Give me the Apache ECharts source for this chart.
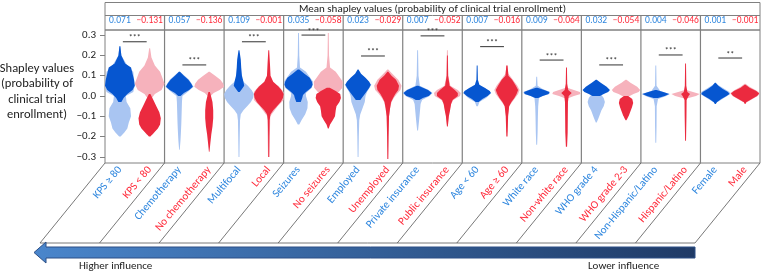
<!DOCTYPE html>
<html>
<head>
<meta charset="utf-8">
<script src="https://cdn.jsdelivr.net/npm/echarts@6/dist/echarts.min.js"></script>
<style>
  html, body { margin: 0; padding: 0; background: #fff; }
  #chart { width: 763px; height: 271px; }
</style>
</head>
<body>
<div id="chart"></div>
<script>
// feature levels, blue (first) and red (second) in each panel
const categories = [
  'KPS \u2265 80', 'KPS < 80', 'Chemotherapy', 'No chemotherapy', 'Multifocal', 'Local',
  'Seizures', 'No seizures', 'Employed', 'Unemployed', 'Private insurance', 'Public insurance',
  'Age < 60', 'Age \u2265 60', 'White race', 'Non-white race', 'WHO grade 4', 'WHO grade 2-3',
  'Non-Hispanic/Latino', 'Hispanic/Latino', 'Female', 'Male'
];
const meanValues = [
  0.071, -0.131, 0.057, -0.136, 0.109, -0.001, 0.035, -0.058, 0.023, -0.029, 0.007, -0.052,
  0.007, -0.016, 0.009, -0.064, 0.032, -0.054, 0.004, -0.046, 0.001, -0.001
];
// significance bar height per panel and its stars
const sigLevels = [0.267, 0.153, 0.267, 0.300, 0.197, 0.296, 0.243, 0.177, 0.153, 0.202, 0.187];
const sigMarks = ['***', '***', '***', '***', '***', '***', '***', '***', '***', '***', '**'];
const yTicks = [-0.3, -0.2, -0.1, 0, 0.1, 0.2, 0.3];

// violin outlines: [shap value, half width as share of half band], top to bottom
const lightProfiles = [
  [[0.245,0.03],[0.2,0.1],[0.15,0.5],[0.12,0.9],[0.05,1.0],[0.02,0.9],[0.0,0.4],[-0.03,0.45],[-0.06,0.7],[-0.1,0.75],[-0.13,0.6],[-0.16,0.5],[-0.18,0.3],[-0.2,0.05]],
  [[0.235,0.03],[0.19,0.12],[0.15,0.35],[0.12,0.7],[0.09,0.85],[0.06,1.0],[0.03,0.8],[0.01,0.35],[-0.01,0.15],[-0.04,0.3],[-0.08,0.6],[-0.12,0.6],[-0.16,0.5],[-0.19,0.2]],
  [[0.12,0.05],[0.08,0.65],[0.045,0.95],[0.02,0.55],[0.0,0.2],[-0.03,0.17],[-0.08,0.15],[-0.13,0.13],[-0.18,0.1],[-0.22,0.07],[-0.265,0.02]],
  [[0.12,0.03],[0.1,0.4],[0.08,0.75],[0.06,0.95],[0.045,1.0],[0.03,0.7],[0.015,0.3],[0.0,0.1]],
  [[0.2,0.03],[0.1,0.1],[0.07,0.3],[0.05,0.6],[0.03,0.85],[0.01,1.0],[-0.01,0.95],[-0.03,0.8],[-0.05,0.55],[-0.07,0.3],[-0.09,0.12],[-0.12,0.07],[-0.2,0.05],[-0.3,0.03]],
  [[0.05,0.65],[0.02,1.0],[-0.02,1.0],[-0.05,0.6],[-0.1,0.1],[-0.3,0.05]],
  [[0.31,0.03],[0.2,0.05],[0.14,0.1],[0.12,0.5],[0.07,0.98],[0.04,0.9],[0.015,0.5],[0.0,0.5],[-0.03,0.62],[-0.06,0.6],[-0.09,0.45],[-0.12,0.2],[-0.14,0.05]],
  [[0.31,0.03],[0.2,0.05],[0.14,0.12],[0.12,0.5],[0.07,0.98],[0.04,0.95],[0.02,0.7]],
  [[0.1,0.3],[0.055,0.9],[0.02,0.6],[0.0,0.5],[-0.03,0.45],[-0.06,0.3],[-0.09,0.15],[-0.12,0.08],[-0.2,0.05],[-0.3,0.03]],
  [[0.13,0.03],[0.11,0.3],[0.08,0.7],[0.05,0.92],[0.03,0.85],[0.01,0.6],[-0.01,0.4],[-0.03,0.25],[-0.06,0.15],[-0.1,0.08],[-0.2,0.04],[-0.31,0.02]],
  [[0.225,0.03],[0.1,0.06],[0.05,0.15],[0.03,0.75],[0.015,1.0],[0.0,0.8],[-0.02,0.3],[-0.04,0.2],[-0.08,0.15],[-0.12,0.1],[-0.17,0.03]],
  [[0.225,0.03],[0.1,0.06],[0.05,0.2],[0.03,0.7],[0.015,0.9],[0.0,0.85],[-0.02,0.4],[-0.04,0.25],[-0.07,0.15],[-0.1,0.08],[-0.14,0.03]],
  [[0.04,0.5],[0.015,0.95],[-0.01,0.6],[-0.03,0.15],[-0.05,0.05]],
  [[0.15,0.03],[0.11,0.1],[0.08,0.4],[0.05,0.7],[0.03,0.85],[0.01,0.75],[-0.01,0.55],[-0.03,0.35],[-0.05,0.15],[-0.1,0.06],[-0.18,0.03]],
  [[0.095,0.03],[0.05,0.06],[0.035,0.4],[0.02,0.9],[0.01,0.85],[0.0,0.4],[-0.01,0.15],[-0.05,0.1],[-0.1,0.08],[-0.18,0.06],[-0.24,0.03]],
  [[0.04,0.05],[0.03,0.5],[0.02,0.9],[0.01,0.95],[0.0,0.5],[-0.01,0.15]],
  [[0.01,0.3],[-0.01,0.5],[-0.03,0.58],[-0.05,0.5],[-0.07,0.35],[-0.09,0.25],[-0.11,0.15],[-0.13,0.03]],
  [[0.08,0.03],[0.065,0.3],[0.045,0.75],[0.03,0.95],[0.02,0.85],[0.01,0.5],[0.0,0.25]],
  [[0.15,0.03],[0.05,0.05],[0.025,0.3],[0.01,0.95],[0.0,0.7],[-0.015,0.15],[-0.05,0.06],[-0.15,0.05],[-0.23,0.03]],
  [[0.03,0.05],[0.02,0.5],[0.01,0.95],[0.0,0.7],[-0.01,0.2]],
  [[0.06,0.05],[0.02,0.95],[0.01,1.0],[0.0,0.8],[-0.03,0.15]],
  [[0.06,0.03],[0.045,0.3],[0.03,0.7],[0.015,1.0],[0.0,0.85],[-0.015,0.5],[-0.03,0.15]]
];
const darkProfiles = [
  [[0.245,0.03],[0.2,0.1],[0.16,0.35],[0.14,0.75],[0.11,0.85],[0.08,0.95],[0.05,1.0],[0.03,0.85],[0.01,0.5],[-0.01,0.25],[-0.03,0.1]],
  [[0.01,0.05],[-0.02,0.25],[-0.05,0.45],[-0.08,0.65],[-0.11,0.75],[-0.14,0.7],[-0.16,0.55],[-0.18,0.3],[-0.2,0.05]],
  [[0.12,0.03],[0.1,0.3],[0.08,0.6],[0.06,0.8],[0.045,0.9],[0.03,0.65],[0.015,0.3],[0.0,0.08]],
  [[0.02,0.05],[0.0,0.12],[-0.03,0.22],[-0.07,0.27],[-0.11,0.27],[-0.15,0.22],[-0.19,0.14],[-0.23,0.08],[-0.275,0.02]],
  [[0.225,0.03],[0.18,0.12],[0.14,0.15],[0.1,0.2],[0.07,0.3],[0.05,0.35],[0.035,0.2],[0.02,0.05]],
  [[0.225,0.03],[0.16,0.08],[0.1,0.12],[0.07,0.3],[0.05,0.6],[0.03,0.85],[0.01,1.0],[-0.01,0.95],[-0.03,0.8],[-0.05,0.55],[-0.07,0.3],[-0.09,0.12],[-0.12,0.06],[-0.2,0.04],[-0.3,0.03]],
  [[0.13,0.05],[0.11,0.4],[0.09,0.75],[0.07,0.9],[0.055,0.95],[0.04,0.85],[0.02,0.5],[0.005,0.3],[-0.01,0.25],[-0.03,0.15]],
  [[0.04,0.1],[0.025,0.5],[0.01,0.8],[-0.01,0.85],[-0.03,0.75],[-0.05,0.55],[-0.07,0.5],[-0.1,0.45],[-0.12,0.3],[-0.14,0.12],[-0.16,0.03]],
  [[0.13,0.03],[0.11,0.2],[0.09,0.5],[0.07,0.75],[0.055,0.85],[0.04,0.75],[0.02,0.55],[0.0,0.35],[-0.02,0.15]],
  [[0.12,0.03],[0.1,0.25],[0.08,0.55],[0.05,0.75],[0.03,0.7],[0.01,0.5],[-0.01,0.35],[-0.03,0.22],[-0.06,0.15],[-0.1,0.08],[-0.2,0.05],[-0.31,0.03]],
  [[0.05,0.05],[0.04,0.35],[0.03,0.7],[0.015,0.95],[0.0,0.75],[-0.01,0.35],[-0.02,0.12]],
  [[0.2,0.03],[0.1,0.05],[0.05,0.15],[0.03,0.5],[0.015,0.7],[0.0,0.7],[-0.02,0.35],[-0.04,0.25],[-0.07,0.18],[-0.1,0.1],[-0.15,0.03]],
  [[0.15,0.03],[0.08,0.05],[0.055,0.15],[0.04,0.5],[0.025,0.85],[0.015,0.92],[0.0,0.7],[-0.015,0.35],[-0.03,0.1]],
  [[0.15,0.04],[0.1,0.1],[0.08,0.35],[0.05,0.6],[0.03,0.75],[0.01,0.65],[-0.01,0.5],[-0.03,0.3],[-0.05,0.15],[-0.1,0.08],[-0.2,0.04]],
  [[0.04,0.05],[0.03,0.5],[0.02,0.85],[0.01,0.8],[0.0,0.4],[-0.01,0.1]],
  [[0.14,0.03],[0.06,0.05],[0.03,0.12],[0.015,0.35],[0.0,0.15],[-0.03,0.1],[-0.1,0.09],[-0.18,0.08],[-0.25,0.04]],
  [[0.08,0.03],[0.065,0.3],[0.045,0.7],[0.03,0.92],[0.02,0.8],[0.01,0.5],[0.0,0.25]],
  [[0.0,0.15],[-0.015,0.42],[-0.035,0.48],[-0.055,0.4],[-0.075,0.3],[-0.095,0.2],[-0.11,0.1],[-0.12,0.03]],
  [[0.03,0.05],[0.02,0.5],[0.01,0.9],[0.0,0.6],[-0.01,0.15]],
  [[0.16,0.03],[0.05,0.05],[0.02,0.12],[0.01,0.3],[0.0,0.2],[-0.02,0.07],[-0.1,0.06],[-0.22,0.03]],
  [[0.065,0.03],[0.05,0.2],[0.035,0.5],[0.02,0.85],[0.01,0.95],[0.0,0.75],[-0.015,0.4],[-0.03,0.12],[-0.04,0.03]],
  [[0.055,0.03],[0.04,0.3],[0.025,0.75],[0.012,0.95],[0.0,0.8],[-0.015,0.45],[-0.03,0.1],[-0.04,0.02]]
];

const BLUE_DARK = '#0656d0', BLUE_LIGHT = '#a9c5f2';
const RED_DARK = '#eb2a3f', RED_LIGHT = '#f6b2bc';
const BLUE_TXT = '#2e86de', RED_TXT = '#ff2a3a';
const LINE = '#808080';
const FONT = 'Carlito, Lato, sans-serif';

function fmt(v, d) {
  return (v < 0 ? '\u2212' : '') + Math.abs(v).toFixed(d);
}

const violinData = [];
categories.forEach((c, i) => { violinData.push([i, 0]); violinData.push([i, 1]); });

function renderViolin(params, api) {
  const i = api.value(0), layer = api.value(1);
  const prof = (layer ? darkProfiles : lightProfiles)[i];
  const half = api.size([1, 0])[0] / 2;
  const right = prof.map(([v, w]) => { const p = api.coord([i, v]); return [p[0] + w * half, p[1]]; });
  const left = prof.slice().reverse().map(([v, w]) => { const p = api.coord([i, v]); return [p[0] - w * half, p[1]]; });
  const blue = i % 2 === 0;
  const fill = layer ? (blue ? BLUE_DARK : RED_DARK) : (blue ? BLUE_LIGHT : RED_LIGHT);
  return { type: 'polygon', shape: { points: right.concat(left) }, style: { fill: fill } };
}

function renderSig(params, api) {
  const k = api.value(0), v = api.value(1);
  const band = api.size([1, 0])[0];
  const a = api.coord([2 * k, v]), b = api.coord([2 * k + 1, v]);
  const x1 = a[0] + band * 0.1, x2 = b[0] - band * 0.1;
  return {
    type: 'group',
    children: [
      { type: 'line', shape: { x1: x1, y1: a[1], x2: x2, y2: a[1] }, style: { stroke: '#333', lineWidth: 1 } },
      { type: 'text', style: { text: sigMarks[k], x: (x1 + x2) / 2, y: a[1] - 3.5, align: 'center',
          verticalAlign: 'middle', fontSize: 8, fontFamily: FONT, fill: '#333' } }
    ]
  };
}

const chart = echarts.init(document.getElementById('chart'));

chart.setOption({
  animation: false,
  grid: { left: 105, right: 3, top: 30, bottom: 108, show: true, borderColor: LINE, borderWidth: 1,
    containLabel: false, outerBoundsMode: 'none' },
  xAxis: [
    {
      type: 'category', data: categories, boundaryGap: true,
      axisLine: { show: false }, axisTick: { show: false }, splitLine: { show: false },
      axisLabel: { interval: 0, rotate: 50, fontSize: 11, margin: 5, fontFamily: FONT,
        color: (v, i) => (i % 2 ? RED_TXT : BLUE_TXT) }
    },
    {
      type: 'category', position: 'top', data: meanValues.map(v => fmt(v, 3)), boundaryGap: true,
      axisLine: { show: false }, axisTick: { show: false }, splitLine: { show: false },
      axisLabel: { interval: 0, fontSize: 9.5, margin: 4, fontFamily: FONT,
        color: (v, i) => (i % 2 ? RED_TXT : BLUE_TXT) }
    }
  ],
  yAxis: {
    type: 'value', min: -0.33, max: 0.325,
    splitLine: { show: false }, axisLine: { show: false },
    axisTick: { show: true, length: 5, customValues: yTicks, lineStyle: { color: LINE } },
    axisLabel: { customValues: yTicks, formatter: v => fmt(v, 1), color: '#222', fontSize: 11,
      margin: 9, fontFamily: FONT }
  },
  series: [
    { type: 'custom', renderItem: renderViolin, data: violinData, clip: false, silent: true },
    { type: 'custom', renderItem: renderSig, data: sigLevels.map((v, k) => [k, v]), clip: false, silent: true }
  ]
});

// frame, slanted label cells and influence arrow, placed from the axes
const c0 = chart.convertToPixel({ xAxisIndex: 0 }, 0);
const band = chart.convertToPixel({ xAxisIndex: 0 }, 1) - c0;
const gl = c0 - band / 2;
const gr = gl + categories.length * band;
const gt = chart.convertToPixel({ yAxisIndex: 0 }, 0.325);
const gb = chart.convertToPixel({ yAxisIndex: 0 }, -0.33);
const DX = 65, DY = 80;
const headTop = 2.5, headMid = 15.5;

const graphic = [];
graphic.push({ type: 'rect', shape: { x: gl, y: headTop, width: gr - gl, height: gt - headTop },
  style: { fill: 'none', stroke: LINE, lineWidth: 1 }, silent: true });
graphic.push({ type: 'line', shape: { x1: gl, y1: headMid, x2: gr, y2: headMid },
  style: { stroke: LINE, lineWidth: 1 }, silent: true });
graphic.push({ type: 'text', style: { text: 'Mean shapley values (probability of clinical trial enrollment)',
  x: (gl + gr) / 2, y: (headTop + headMid) / 2 + 0.5, align: 'center', verticalAlign: 'middle',
  fontSize: 11, fontFamily: FONT, fill: '#222' }, silent: true });
for (let k = 0; k <= categories.length / 2; k++) {
  const bx = gl + 2 * k * band;
  if (k > 0 && k < categories.length / 2) {
    graphic.push({ type: 'line', shape: { x1: bx, y1: headMid, x2: bx, y2: gb },
      style: { stroke: LINE, lineWidth: 1.2 }, silent: true });
  }
  graphic.push({ type: 'line', shape: { x1: bx, y1: gb, x2: bx - DX, y2: gb + DY },
    style: { stroke: '#555', lineWidth: 0.8 }, silent: true });
}
graphic.push({ type: 'line', shape: { x1: gl - DX, y1: gb + DY, x2: gr - DX, y2: gb + DY },
  style: { stroke: '#555', lineWidth: 0.8 }, silent: true });
graphic.push({ type: 'polygon', shape: { points: [
    [gl - 71, gb + 89.5], [gl - 59, gb + 79], [gl - 59, gb + 84], [gr - DX, gb + 84],
    [gr - DX, gb + 95], [gl - 59, gb + 95], [gl - 59, gb + 100]
  ] },
  style: { fill: new echarts.graphic.LinearGradient(0, 0, 1, 0, [
      { offset: 0, color: '#4a86cc' }, { offset: 1, color: '#1f3a66' }]),
    stroke: '#2c4f86', lineWidth: 1 }, silent: true });
graphic.push({ type: 'text', style: { text: 'Higher influence', x: 79, y: 266, align: 'left',
  verticalAlign: 'middle', fontSize: 11, fontFamily: FONT, fill: '#222' }, silent: true });
graphic.push({ type: 'text', style: { text: 'Lower influence', x: 588, y: 266, align: 'left',
  verticalAlign: 'middle', fontSize: 11, fontFamily: FONT, fill: '#222' }, silent: true });
graphic.push({ type: 'text', style: { text: 'Shapley values\n(probability of\nclinical trial\nenrollment)',
  x: 37, y: 92, align: 'center', verticalAlign: 'middle', lineHeight: 15.3,
  fontSize: 12.5, fontFamily: FONT, fill: '#222' }, silent: true });

chart.setOption({ graphic: graphic });
</script>
</body>
</html>
